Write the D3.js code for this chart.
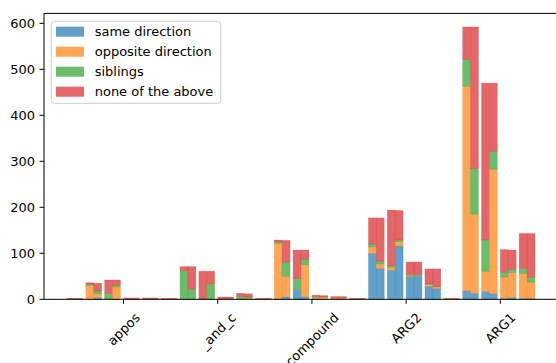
<!DOCTYPE html>
<html>
<head>
<meta charset="utf-8">
<script src="https://cdn.jsdelivr.net/npm/d3@7/dist/d3.min.js"></script>
<style>
  html, body { margin: 0; padding: 0; background: #fff; }
  svg { display: block; font-family: "DejaVu Sans", sans-serif; }
</style>
</head>
<body>
<svg id="chart" width="556" height="363"></svg>
<script>
// Relations shown on the x axis; each relation owns five consecutive slots,
// and each slot holds two stacked bars (run A on the left, run B on the right).
const relations = ['appos', '_and_c', 'compound', 'ARG2', 'ARG1'];
const slotsPerRelation = 5;
const labelSlot = 3;            // slot inside each relation that carries the tick

const seriesKeys   = ['same', 'opposite', 'siblings', 'none'];
const seriesLabels = ['same direction', 'opposite direction', 'siblings', 'none of the above'];
const seriesColors = ['#1f77b4', '#ff7f0e', '#2ca02c', '#d62728'];

// Run A (left bar of every slot), 25 slots in relation order
const sameA     = [0, 0, 0, 0, 0,   0, 0, 0, 0, 0,   0, 1, 21, 1, 0,   0, 100, 63, 50, 28,   0, 18, 17, 2, 2];
const oppositeA = [1, 30, 1, 0, 0,  1, 0, 0, 1, 1,   1, 120, 1, 3, 2,  1, 14, 6, 2, 4,      1, 445, 44, 46, 54];
const siblingsA = [0, 3, 12, 0, 0,  0, 62, 1, 0, 5,  0, 4, 23, 2, 0,   0, 6, 4, 2, 2,       0, 58, 68, 11, 11];
const noneA     = [1, 3, 29, 3, 3,  1, 9, 60, 4, 7,  1, 4, 62, 3, 4,   1, 57, 121, 27, 32,  1, 71, 341, 49, 76];

// Run B (right bar of every slot)
const sameB     = [0, 4, 0, 0, 0,   0, 0, 0, 0, 0,   0, 5, 5, 0, 0,    0, 67, 116, 51, 23,  0, 13, 12, 4, 2];
const oppositeB = [1, 8, 27, 0, 0,  1, 0, 0, 1, 2,   1, 45, 70, 4, 2,  1, 10, 9, 1, 4,      1, 172, 271, 54, 35];
const siblingsB = [0, 6, 4, 0, 0,   0, 22, 34, 0, 3, 0, 31, 12, 1, 0,  0, 6, 4, 2, 1,       0, 99, 39, 7, 11];
const noneB     = [1, 17, 11, 3, 3, 1, 49, 27, 4, 7, 1, 47, 20, 3, 4,  1, 94, 64, 27, 38,   1, 308, 148, 42, 95];

const yTicks = [0, 100, 200, 300, 400, 500, 600];

function rowsFor(same, opposite, siblings, none) {
  return same.map((v, i) => ({ slot: i, same: v, opposite: opposite[i], siblings: siblings[i], none: none[i] }));
}
const runs = [
  { offset: 0,    rows: rowsFor(sameA, oppositeA, siblingsA, noneA) },
  { offset: 0.42, rows: rowsFor(sameB, oppositeB, siblingsB, noneB) }
];
const barWidth = 0.42;
const fontSize = 13;

const svg = d3.select('#chart');
const plot = { left: 44, right: 575.7, top: 13.4, bottom: 299.3 };

const x = d3.scaleLinear().domain([-1.22, 27]).range([plot.left, plot.right]);
const maxTotal = d3.max(runs, r => d3.max(r.rows, d => d.same + d.opposite + d.siblings + d.none));
const y = d3.scaleLinear().domain([0, maxTotal * 1.05]).range([plot.bottom, plot.top]);

const stack = d3.stack().keys(seriesKeys);
const color = d3.scaleOrdinal().domain(seriesKeys).range(seriesColors);

// stacked bars
runs.forEach(run => {
  const layers = stack(run.rows);
  svg.append('g').selectAll('g')
    .data(layers).join('g')
      .attr('fill', d => color(d.key))
      .attr('stroke', d => color(d.key))
    .selectAll('rect')
    .data(d => d.filter(s => s[1] - s[0] > 0)).join('rect')
      .attr('x', d => x(d.data.slot + run.offset))
      .attr('width', d => x(d.data.slot + run.offset + barWidth) - x(d.data.slot + run.offset))
      .attr('y', d => y(d[1]))
      .attr('height', d => y(d[0]) - y(d[1]))
      .attr('fill-opacity', 0.7)
      .attr('stroke-opacity', 0.35)
      .attr('stroke-width', 0.6);
});

// spines
const axisG = svg.append('g').attr('stroke', '#000').attr('stroke-width', 1);
axisG.append('line').attr('x1', plot.left).attr('x2', plot.left).attr('y1', plot.top).attr('y2', plot.bottom);
axisG.append('line').attr('x1', plot.left).attr('x2', plot.right).attr('y1', plot.bottom).attr('y2', plot.bottom);
axisG.append('line').attr('x1', plot.left).attr('x2', plot.right).attr('y1', plot.top).attr('y2', plot.top);
axisG.append('line').attr('x1', plot.right).attr('x2', plot.right).attr('y1', plot.top).attr('y2', plot.bottom);

// y axis
const tickLen = 4.5, tickPad = 4.5;
const yAxis = svg.append('g');
yTicks.forEach(t => {
  yAxis.append('line')
    .attr('x1', plot.left - tickLen).attr('x2', plot.left)
    .attr('y1', y(t)).attr('y2', y(t))
    .attr('stroke', '#000').attr('stroke-width', 1);
  yAxis.append('text')
    .attr('x', plot.left - tickLen - tickPad)
    .attr('y', y(t))
    .attr('dy', '0.36em')
    .attr('text-anchor', 'end')
    .attr('font-size', fontSize)
    .attr('fill', '#000')
    .text(t);
});

// x axis: one tick per relation, labels rotated 45 degrees, the rotated
// box centred on the tick and hung below it
const xAxis = svg.append('g');
relations.forEach((name, i) => {
  const tx = x(i * slotsPerRelation + labelSlot);
  xAxis.append('line')
    .attr('x1', tx).attr('x2', tx)
    .attr('y1', plot.bottom).attr('y2', plot.bottom + tickLen)
    .attr('stroke', '#000').attr('stroke-width', 1);
  const label = xAxis.append('text')
    .attr('text-anchor', 'middle')
    .attr('font-size', fontSize)
    .attr('fill', '#000')
    .text(name);
  const w = label.node().getComputedTextLength();
  const h = 1.164 * fontSize;
  const boxH = (w + h) * Math.SQRT1_2;
  const cy = plot.bottom + tickLen + tickPad + 1.5 + boxH / 2;
  label.attr('x', 0).attr('y', 0).attr('dy', '0.36em')
    .attr('transform', `translate(${tx},${cy}) rotate(-45)`);
});

// legend
const legend = svg.append('g');
legend.append('rect')
  .attr('x', 51.3).attr('y', 21.3).attr('width', 169.4).attr('height', 82)
  .attr('rx', 3).attr('ry', 3)
  .attr('fill', '#fff').attr('fill-opacity', 0.8)
  .attr('stroke', '#cccccc').attr('stroke-width', 1);
seriesKeys.forEach((k, i) => {
  const rowY = 31.7 + i * 20;
  legend.append('rect')
    .attr('x', 56).attr('y', rowY - 5).attr('width', 28).attr('height', 10)
    .attr('fill', color(k)).attr('fill-opacity', 0.7);
  legend.append('text')
    .attr('x', 94.7).attr('y', rowY).attr('dy', '0.36em')
    .attr('font-size', fontSize).attr('fill', '#000')
    .text(seriesLabels[i]);
});
</script>
</body>
</html>
